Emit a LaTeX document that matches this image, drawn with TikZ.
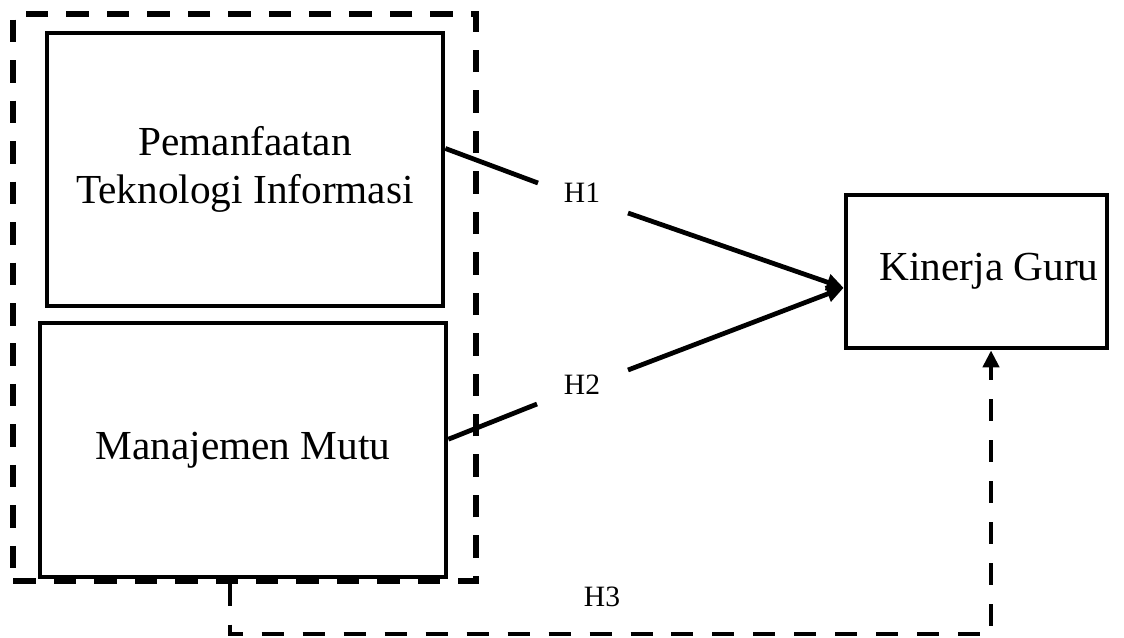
\documentclass[tikz,border=0pt]{standalone}
\usepackage{fontspec}
\setmainfont{Liberation Serif}
\usetikzlibrary{arrows.meta}

\begin{document}
\begin{tikzpicture}[x=0.02cm,y=-0.02cm]
  \tikzset{var box/.style={draw,line width=2.7pt,inner sep=0pt,align=center,
      font=\fontsize{23.5}{27.2}\selectfont},
    hyp label/.style={font=\fontsize{16.8}{20}\selectfont},
    path line/.style={line width=2.7pt},
    hyp tip/.style={-{Triangle[length=0.34cm,width=0.32cm]}},
    group box/.style={draw,line width=3pt,dash pattern=on 0.45cm off 0.36cm,
      minimum width=9.26cm,minimum height=11.34cm}}
  \useasboundingbox (0,0) rectangle (1124,637);

  \node [group box] (grp) at (244.5,297.5) {}; % X1 + X2
  \node [var box,minimum width=7.92cm,minimum height=5.46cm] (ti) at (245,169.5) {Pemanfaatan\\Teknologi Informasi}; % X1
  \node [var box,minimum width=8.12cm,minimum height=5.08cm] (mm) at (243,450) {Manajemen Mutu}; % X2
  \node [var box,minimum width=5.22cm,minimum height=3.06cm] (kg) at (976.5,271.5) {\hspace*{0.5cm}Kinerja Guru}; % Y
  \node [hyp label] (h1) at (582,193) {H1};
  \node [hyp label] (h2) at (582,385) {H2};
  \node [hyp label] (h3) at (602,597) {H3};

  \coordinate (h1a) at (538,183);
  \coordinate (h1b) at (628,213);
  \coordinate (h2a) at (537,404);
  \coordinate (h2b) at (628,370);
  \coordinate (h3a) at (230,634);
  \coordinate (h3b) at (991,634);

  \draw [path line] (ti.6) -- (h1a);
  \draw [path line,hyp tip] (h1b) -- (kg.187);
  \draw [path line] (mm.3) -- (h2a);
  \draw [path line,hyp tip] (h2b) -- (kg.187);
  \draw [path line,dash pattern=on 0.44cm off 0.38cm,hyp tip]
    (grp.south -| h3a) -- (h3a) -- (h3b) -- (h3b |- kg.south);
\end{tikzpicture}
\end{document}
